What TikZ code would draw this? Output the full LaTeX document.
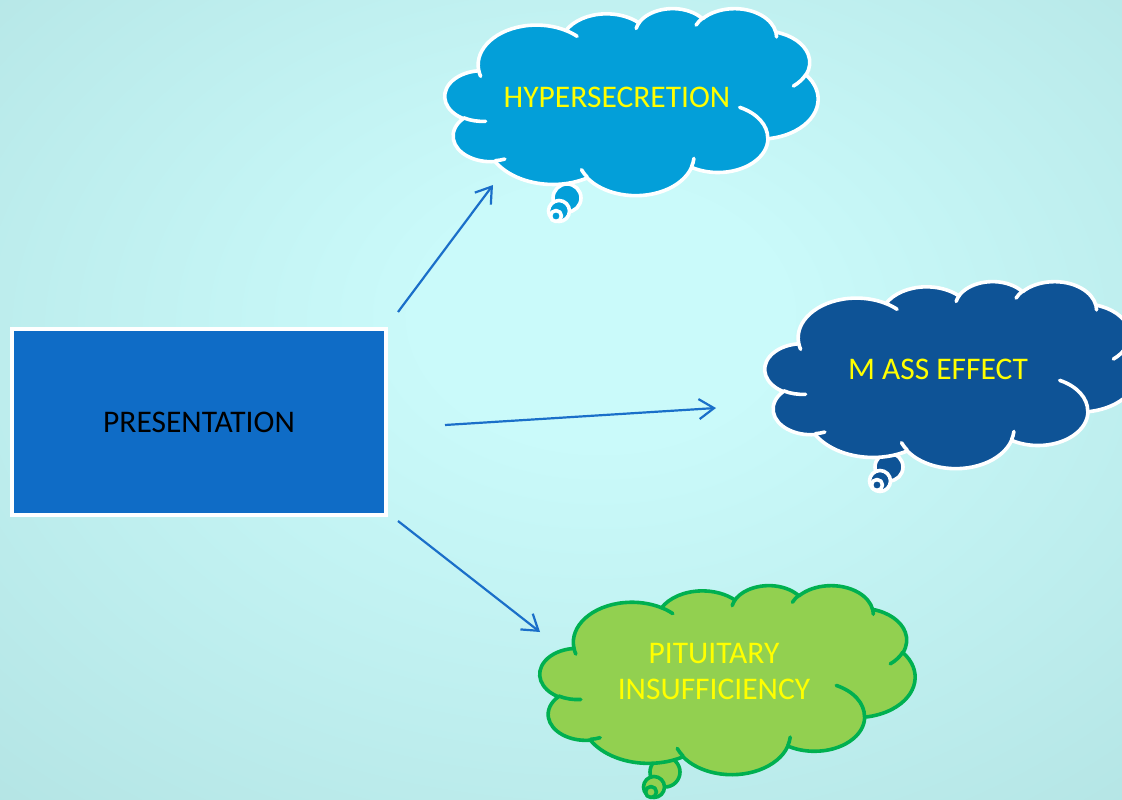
\documentclass[tikz,border=0pt]{standalone}
\usepackage{fontspec}
\setmainfont{Carlito}
\usetikzlibrary{arrows.meta}
\definecolor{bgin}{HTML}{CAFAFA}
\definecolor{bgout}{HTML}{9CCDCD}
\definecolor{rectblue}{HTML}{0F6CC6}
\definecolor{cloudA}{HTML}{039FD9}
\definecolor{cloudB}{HTML}{0E5396}
\definecolor{cloudC}{HTML}{92D050}
\definecolor{cloudCline}{HTML}{00B050}
\definecolor{arrowblue}{HTML}{1A6FC9}
\definecolor{txtyellow}{HTML}{FFFF00}
\pgfdeclareradialshading{bgshade}{\pgfpoint{2bp}{6bp}}{color(0bp)=(bgin); color(8bp)=(bgin); color(72bp)=(bgout)}

\newcommand\cldarc[4]{arc[start angle={atan2(#1*sin(#3),#2*cos(#3))}, delta angle={mod(atan2(#1*sin(#3+#4),#2*cos(#3+#4))-atan2(#1*sin(#3),#2*cos(#3))+720,360)}, x radius={#1/100}, y radius={#2/100}]}

\newcommand\cloudbody{(39.00,143.70)
 \cldarc{6753}{9190}{-190.4875}{123.7805}
 \cldarc{5333}{7267}{-144.1024}{89.9452}
 \cldarc{4365}{5945}{-145.8079}{99.7230}
 \cldarc{4857}{6595}{-130.9861}{117.2417}
 \cldarc{5333}{7273}{-78.7089}{109.0269}
 \cldarc{6775}{9220}{-46.2673}{130.2690}
 \cldarc{5785}{7867}{0.6250}{114.0333}
 \cldarc{6752}{9215}{22.4516}{115.1726}
 \cldarc{7720}{10543}{66.2426}{75.7110}
 \cldarc{4360}{5918}{-274.9421}{146.7356}
 \cldarc{4345}{5945}{-246.8285}{152.5189} -- cycle}

\newcommand\cloudcreases{
 (46.93,261.77) \cldarc{4345}{5945}{86.742}{26.4295}
 (69.28,348.99) \cldarc{4360}{5918}{73.6105}{11.4475}
 (164.78,390.90) \cldarc{6752}{9215}{137.6242}{14.0811}
 (288.27,347.51) \cldarc{6752}{9215}{6.4533}{15.9984}
 (341.29,229.54) \cldarc{5785}{7867}{-70.2924}{70.9174}
 (417.98,153.54) \cldarc{5333}{7273}{30.3180}{27.7515}
 (383.24,54.26) \cldarc{4857}{6595}{-13.7443}{14.8589}
 (290.78,39.52) \cldarc{4857}{6595}{-149.1815}{18.1954}
 (221.41,47.20) \cldarc{4365}{5945}{-163.4943}{17.6864}
 (140.00,51.92) \cldarc{6753}{9190}{-66.7070}{12.3194}
 (41.27,157.89) \cldarc{6753}{9190}{157.6544}{11.8582}}

\newcommand\drawcloud[6]{%
 \begin{scope}[shift={(#1,#2)}, xscale=#3/432, yscale=#4/432]
  \filldraw[fill=#5, draw=#6, cloudline] \cloudbody;
  \draw[draw=#6, cloudline] \cloudcreases;
 \end{scope}}

\tikzset{
 cloudline/.style={line width=3.6bp, line join=round, line cap=round},
 bubble/.style={cloudline},
 lbl/.style={text=txtyellow, font=\fontsize{31.5bp}{36bp}\selectfont, align=center, inner sep=0pt},
 conn/.style={draw=arrowblue, line width=2.2bp, -{Straight Barb[length=15bp, width=20bp, line width=2.2bp]}},
}

\begin{document}
\begin{tikzpicture}[x=1bp, y=-1bp]
\useasboundingbox (0,0) rectangle (1122,800);
\shade[shading=bgshade] (0,0) rectangle (1122,800);

% presentation box
\node[draw=white, line width=3.5bp, fill=rectblue, minimum width=374bp, minimum height=186bp, inner sep=0pt,
      font=\fontsize{31.5bp}{36bp}\selectfont, text=black] (pres) at (199,422) {PRESENTATION};

% cloud 1
\filldraw[fill=cloudA, draw=white, bubble] (567,198) circle[radius=14];
\filldraw[fill=cloudA, draw=white, bubble] (559,211) circle[radius=10.5];
\filldraw[fill=cloudA, draw=white, bubble] (556,216) circle[radius=5.5];
\drawcloud{445}{8}{373}{187}{cloudA}{white}
\node[lbl] (hyper) at (617,97) {HYPERSECRETION};

% cloud 2
\filldraw[fill=cloudB, draw=white, bubble] (889,467) circle[radius=14];
\filldraw[fill=cloudB, draw=white, bubble] (880,481) circle[radius=10.5];
\filldraw[fill=cloudB, draw=white, bubble] (877,485) circle[radius=5.5];
\drawcloud{765}{281}{373}{187}{cloudB}{white}
\node[lbl] (mass) at (938,369) {M ASS EFFECT};

% cloud 3
\filldraw[fill=cloudC, draw=cloudCline, bubble] (665,772) circle[radius=15];
\filldraw[fill=cloudC, draw=cloudCline, bubble] (654,787) circle[radius=10.5];
\filldraw[fill=cloudC, draw=cloudCline, bubble] (651,792) circle[radius=5.5];
\drawcloud{540}{585}{375}{189}{cloudC}{cloudCline}
\node[lbl] (pit) at (714,672) {PITUITARY\\INSUFFICIENCY};

% connectors
\coordinate (a1s) at (398,312);
\coordinate (a1e) at (493,185);
\coordinate (a2s) at (445,425);
\coordinate (a2e) at (716,408);
\coordinate (a3s) at (398,521);
\coordinate (a3e) at (540,632);
\draw[conn] (a1s) -- (a1e);
\draw[conn] (a2s) -- (a2e);
\draw[conn] (a3s) -- (a3e);
\end{tikzpicture}
\end{document}
